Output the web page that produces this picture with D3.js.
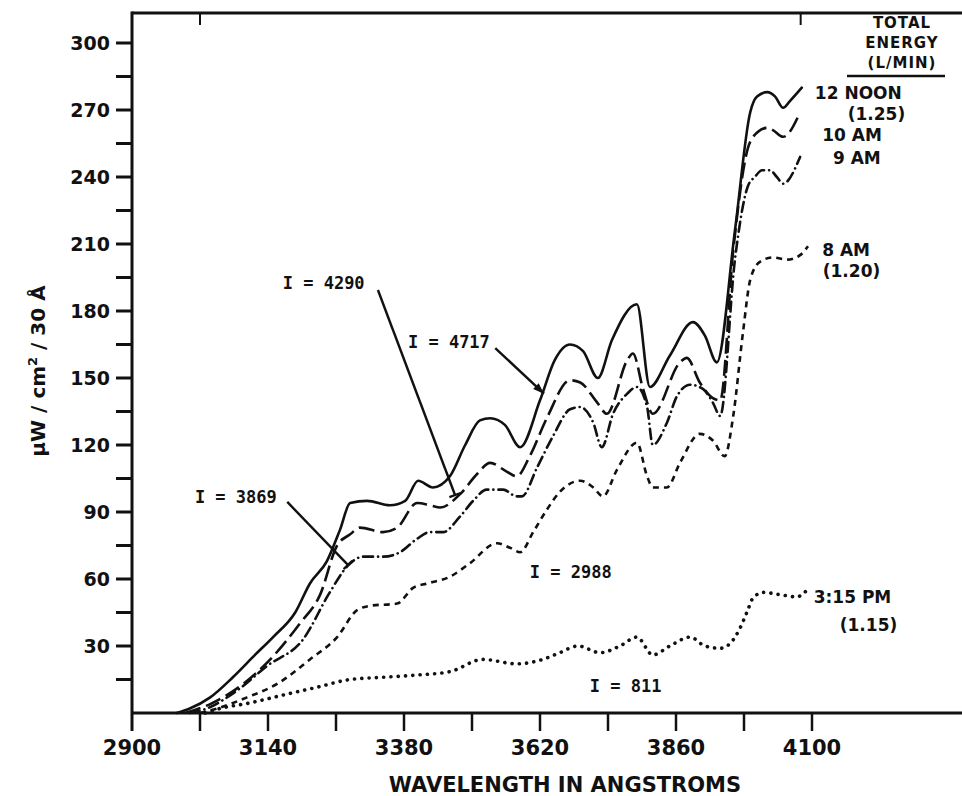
<!DOCTYPE html>
<html>
<head>
<meta charset="utf-8">
<script src="https://cdn.jsdelivr.net/npm/d3@7"></script>
<style>
  html, body { margin: 0; padding: 0; background: #fff; }
  #chart { width: 962px; height: 796px; }
  text { font-family: "DejaVu Sans", sans-serif; fill: #111; }
</style>
</head>
<body>
<div id="chart"></div>
<script>
// spectral irradiance, [wavelength in angstroms, uW/cm2/30A]
const noon = [
  [2979, 0], [3002, 2], [3038, 7], [3078, 16], [3117, 26], [3149, 34], [3188, 45],
  [3214, 58], [3244, 68], [3267, 82], [3285, 94], [3315, 95], [3355, 93], [3382, 95],
  [3405, 104], [3431, 101], [3461, 106], [3488, 120], [3514, 131], [3532, 132],
  [3558, 129], [3585, 119], [3620, 140], [3646, 158], [3673, 165], [3696, 162],
  [3722, 150], [3747, 167], [3791, 183], [3814, 146], [3849, 160], [3890, 175],
  [3911, 169], [3932, 157], [3964, 216], [3991, 269], [4003, 276], [4021, 278],
  [4035, 276], [4049, 271], [4061, 274], [4082, 280]
];
const tenAm = [
  [2994, 0], [3038, 4], [3096, 13], [3144, 24], [3196, 40], [3232, 53], [3262, 75],
  [3285, 80], [3302, 83], [3343, 81], [3368, 83], [3403, 94], [3426, 93], [3444, 92],
  [3479, 98], [3509, 107], [3532, 112], [3562, 108], [3579, 106], [3602, 115],
  [3632, 132], [3673, 149], [3691, 148], [3721, 139], [3738, 134], [3774, 158],
  [3784, 161], [3802, 145], [3819, 134], [3867, 157], [3879, 159], [3902, 148],
  [3925, 141], [3938, 140], [3961, 207], [3987, 253], [3996, 258], [4021, 262],
  [4031, 261], [4049, 258], [4079, 269]
];
const nineAm = [
  [3002, 0], [3032, 2], [3085, 10], [3138, 21], [3202, 33], [3249, 54], [3281, 66],
  [3308, 70], [3343, 70], [3373, 72], [3403, 78], [3426, 81], [3449, 81], [3479, 88],
  [3502, 95], [3526, 100], [3555, 100], [3579, 97], [3588, 97], [3615, 110],
  [3643, 124], [3673, 136], [3691, 137], [3714, 130], [3729, 119], [3749, 134],
  [3774, 143], [3791, 146], [3809, 137], [3819, 120], [3844, 130], [3862, 142],
  [3885, 147], [3908, 145], [3925, 139], [3938, 133], [3964, 203], [3987, 236],
  [3999, 240], [4012, 243], [4026, 243], [4038, 240], [4049, 237], [4079, 249]
];
const eightAm = [
  [3020, 0], [3050, 2], [3103, 7], [3156, 13], [3214, 24], [3262, 34], [3297, 46],
  [3320, 48], [3368, 49], [3396, 56], [3421, 58], [3461, 61], [3496, 67], [3544, 76],
  [3567, 74], [3585, 72], [3608, 81], [3632, 91], [3655, 99], [3691, 104], [3714, 101],
  [3731, 97], [3756, 109], [3791, 121], [3809, 106], [3819, 101], [3844, 101],
  [3867, 112], [3902, 125], [3925, 122], [3946, 115], [3961, 133], [3978, 170],
  [3991, 194], [4008, 202], [4031, 204], [4056, 203], [4079, 205], [4093, 209]
];
const pm315 = [
  [3029, 0], [3055, 2], [3108, 4.5], [3166, 8], [3226, 11.5], [3285, 15], [3343, 16],
  [3403, 17], [3461, 18.5], [3519, 24], [3579, 22], [3625, 24], [3655, 27], [3687, 30],
  [3726, 27], [3761, 30], [3791, 34], [3819, 26], [3849, 30], [3885, 34], [3911, 30],
  [3938, 29], [3955, 31], [3973, 38], [3985, 45], [3996, 51.5], [4014, 54], [4043, 53],
  [4073, 52], [4091, 55]
];

const xTicks = [2900, 3020, 3140, 3260, 3380, 3500, 3620, 3740, 3860, 3980, 4100];
const xTickLabels = [2900, 3140, 3380, 3620, 3860, 4100];
const yTicks = [15, 30, 45, 60, 75, 90, 105, 120, 135, 150, 165, 180, 195, 210, 225, 240, 255, 270, 285, 300];
const yTickLabels = [30, 60, 90, 120, 150, 180, 210, 240, 270, 300];
const topTicks = [3020, 4080];

const seriesNames = ['12 NOON', '10 AM', '9 AM', '8 AM', '3:15 PM'];
const energyLabels = ['(1.25)', '(1.20)', '(1.15)'];
const intensityLabels = ['I = 4717', 'I = 4290', 'I = 3869', 'I = 2988', 'I = 811'];
const legendHeader = ['TOTAL', 'ENERGY', '(L/MIN)'];

function render() {
  const W = 962, H = 796;
  const svg = d3.select('#chart').append('svg').attr('width', W).attr('height', H);
  svg.append('rect').attr('width', W).attr('height', H).attr('fill', '#fff');

  const x = d3.scaleLinear().domain([2900, 4100]).range([132, 812]);
  const y = d3.scaleLinear().domain([0, 300]).range([713, 43]);
  const x0 = x(2900), yBase = y(0), yTop = 13, xEnd = W;
  const ink = '#111';

  // frame
  svg.append('line').attr('x1', x0).attr('x2', x0).attr('y1', yTop - 1.5).attr('y2', yBase + 18)
    .attr('stroke', ink).attr('stroke-width', 3);
  svg.append('line').attr('x1', x0).attr('x2', xEnd).attr('y1', yBase).attr('y2', yBase)
    .attr('stroke', ink).attr('stroke-width', 3);
  svg.append('line').attr('x1', x0).attr('x2', xEnd).attr('y1', yTop).attr('y2', yTop)
    .attr('stroke', ink).attr('stroke-width', 3);

  svg.selectAll('line.top-tick').data(topTicks).join('line')
    .attr('class', 'top-tick')
    .attr('x1', (d) => x(d)).attr('x2', (d) => x(d))
    .attr('y1', yTop).attr('y2', yTop + 12)
    .attr('stroke', ink).attr('stroke-width', 2);

  // y ticks
  svg.selectAll('line.y-tick').data(yTicks).join('line')
    .attr('class', 'y-tick')
    .attr('x1', x0 - 16).attr('x2', x0)
    .attr('y1', (d) => y(d)).attr('y2', (d) => y(d))
    .attr('stroke', ink).attr('stroke-width', 3);
  svg.selectAll('text.y-label').data(yTickLabels).join('text')
    .attr('class', 'y-label')
    .attr('x', x0 - 22).attr('y', (d) => y(d))
    .attr('dy', '0.36em')
    .attr('text-anchor', 'end')
    .style('font-size', '19px').style('font-weight', 700)
    .text((d) => d);

  // x ticks
  svg.selectAll('line.x-tick').data(xTicks.slice(1)).join('line')
    .attr('class', 'x-tick')
    .attr('x1', (d) => x(d)).attr('x2', (d) => x(d))
    .attr('y1', yBase).attr('y2', yBase + 18)
    .attr('stroke', ink).attr('stroke-width', 2.5);
  svg.selectAll('text.x-label').data(xTickLabels).join('text')
    .attr('class', 'x-label')
    .attr('x', (d) => x(d)).attr('y', yBase + 42)
    .attr('text-anchor', 'middle')
    .style('font-size', '21px').style('font-weight', 700)
    .text((d) => d);

  // axis titles
  svg.append('text')
    .attr('x', 565).attr('y', 792)
    .attr('text-anchor', 'middle')
    .style('font-size', '21px').style('font-weight', 700)
    .text('WAVELENGTH IN ANGSTROMS');

  const yt = svg.append('text')
    .attr('transform', 'translate(45,371) rotate(-90)')
    .attr('text-anchor', 'middle')
    .style('font-size', '20px').style('font-weight', 700);
  yt.append('tspan').text('\u03bcW / cm');
  yt.append('tspan').attr('dy', -8).style('font-size', '13px').text('2');
  yt.append('tspan').attr('dy', 8).text(' / 30 \u00c5');

  // curves
  const line = d3.line()
    .x((d) => x(d[0]))
    .y((d) => y(d[1]))
    .curve(d3.curveMonotoneX);

  const series = [
    { data: pm315, dash: '0.1 7.2', width: 3.6, cap: 'round' },
    { data: eightAm, dash: '6 5', width: 2.6, cap: 'butt' },
    { data: nineAm, dash: '10 5 0.1 5', width: 2.6, cap: 'round' },
    { data: tenAm, dash: '16 6', width: 2.6, cap: 'butt' },
    { data: noon, dash: null, width: 2.6, cap: 'round' }
  ];
  svg.selectAll('path.series').data(series).join('path')
    .attr('class', 'series')
    .attr('d', (d) => line(d.data))
    .attr('fill', 'none')
    .attr('stroke', ink)
    .attr('stroke-width', (d) => d.width)
    .attr('stroke-linecap', (d) => d.cap)
    .attr('stroke-linejoin', 'round')
    .attr('stroke-dasharray', (d) => d.dash);

  // right-hand legend
  const hdr = svg.append('g').style('font-size', '15px').style('font-weight', 700)
    .style('letter-spacing', '1px');
  legendHeader.forEach((t, i) => {
    hdr.append('text').attr('x', 902).attr('y', 28 + i * 20)
      .attr('text-anchor', 'middle').text(t);
  });
  svg.append('line').attr('x1', 847).attr('x2', 945).attr('y1', 76).attr('y2', 76)
    .attr('stroke', ink).attr('stroke-width', 2.5);

  const seriesLabelPos = [
    [4105, 277.6], [4118, 258.8], [4137, 248.5], [4118, 207.3], [4103, 52]
  ];
  svg.selectAll('text.series-label').data(seriesNames).join('text')
    .attr('class', 'series-label')
    .attr('x', (d, i) => x(seriesLabelPos[i][0]))
    .attr('y', (d, i) => y(seriesLabelPos[i][1]))
    .attr('dy', '0.36em')
    .style('font-size', '17px').style('font-weight', 700)
    .text((d) => d);

  const energyPos = [[4163, 268.2], [4119, 198], [4149, 39.4]];
  svg.selectAll('text.energy-label').data(energyLabels).join('text')
    .attr('class', 'energy-label')
    .attr('x', (d, i) => x(energyPos[i][0]))
    .attr('y', (d, i) => y(energyPos[i][1]))
    .attr('dy', '0.36em')
    .style('font-size', '17px').style('font-weight', 700)
    .text((d) => d);

  // intensity annotations
  const intensityPos = [[3387, 166], [3166, 192.6], [3011, 96.7], [3602, 63], [3708, 12.1]];
  svg.selectAll('text.intensity').data(intensityLabels).join('text')
    .attr('class', 'intensity')
    .attr('x', (d, i) => x(intensityPos[i][0]))
    .attr('y', (d, i) => y(intensityPos[i][1]))
    .attr('dy', '0.36em')
    .style('font-family', '"DejaVu Sans Mono", monospace')
    .style('font-size', '17px').style('font-weight', 700)
    .text((d) => d);

  const leaders = [
    { from: [3541, 163.4], to: [3627, 143], head: 'arrow' },
    { from: [3334, 189.4], to: [3470, 97.6], head: 'bar' },
    { from: [3174, 94.5], to: [3281, 66.3], head: 'bar' }
  ];
  leaders.forEach((l) => {
    const x1 = x(l.from[0]), y1 = y(l.from[1]), x2 = x(l.to[0]), y2 = y(l.to[1]);
    svg.append('line').attr('x1', x1).attr('y1', y1).attr('x2', x2).attr('y2', y2)
      .attr('stroke', ink).attr('stroke-width', 2.4);
    const len = Math.hypot(x2 - x1, y2 - y1);
    const ux = (x2 - x1) / len, uy = (y2 - y1) / len;
    const px = -uy, py = ux;
    if (l.head === 'bar') {
      svg.append('line')
        .attr('x1', x2 - px * 6).attr('y1', y2 - py * 6)
        .attr('x2', x2 + px * 6).attr('y2', y2 + py * 6)
        .attr('stroke', ink).attr('stroke-width', 2.2);
    } else {
      const bx = x2 - ux * 11, by = y2 - uy * 11;
      svg.append('path')
        .attr('d', `M${x2},${y2}L${bx + px * 4},${by + py * 4}L${bx - px * 4},${by - py * 4}Z`)
        .attr('fill', ink);
    }
  });
}

render();
</script>
</body>
</html>
